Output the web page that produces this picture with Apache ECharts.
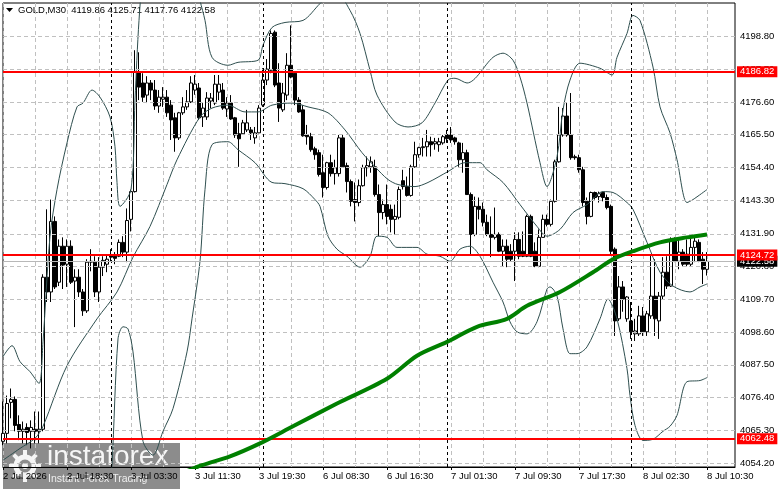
<!DOCTYPE html>
<html>
<head>
<meta charset="utf-8">
<script src="https://cdn.jsdelivr.net/npm/echarts@6/dist/echarts.min.js"></script>
<style>
html,body{margin:0;padding:0;background:#fff}
#chart{width:781px;height:489px}
</style>
</head>
<body>
<div id="chart"></div>
<script>
// GOLD M30 bars: [open, close, low, high]
var ohlc = [
  [4061.6,4064.3,4060.3,4075.1],[4064.3,4074.4,4060.9,4077.1],[4074.8,4075.8,4069.4,4079.5],[4075.8,4067.0,4065.0,4076.8],
  [4067.3,4065.0,4062.0,4070.4],[4065.0,4065.7,4060.9,4068.3],[4066.3,4064.6,4060.3,4067.7],[4065.0,4066.3,4059.2,4068.7],
  [4065.7,4065.0,4060.9,4071.7],[4065.0,4065.7,4060.9,4071.7],[4065.7,4117.2,4065.0,4118.2],[4117.2,4112.2,4108.8,4140.2],
  [4112.2,4136.1,4108.8,4143.5],[4136.1,4113.9,4113.2,4137.8],[4115.5,4127.7,4114.2,4130.0],[4127.7,4121.3,4113.2,4130.7],
  [4121.6,4127.7,4113.9,4130.0],[4127.7,4115.5,4114.9,4129.7],[4115.9,4117.2,4100.3,4119.9],[4117.2,4112.2,4110.5,4119.9],
  [4112.2,4105.8,4104.1,4113.2],[4105.8,4122.3,4105.1,4123.3],[4122.3,4122.6,4119.2,4126.7],[4122.3,4112.2,4110.5,4124.3],
  [4112.2,4120.6,4108.8,4124.0],[4120.6,4122.9,4117.6,4124.3],[4121.6,4123.3,4118.9,4125.0],[4124.6,4124.0,4122.6,4126.7],
  [4124.3,4123.6,4121.6,4125.7],[4124.3,4129.0,4124.0,4130.0],[4129.0,4125.7,4124.0,4131.1],[4125.7,4136.4,4122.3,4140.5],
  [4136.8,4146.2,4132.7,4146.9],[4146.2,4186.7,4145.9,4194.1],[4186.7,4181.6,4177.2,4193.4],[4183.0,4178.2,4176.6,4186.3],
  [4178.9,4183.0,4176.2,4185.3],[4183.0,4180.6,4177.2,4184.0],[4180.6,4175.2,4173.9,4184.0],[4175.2,4178.2,4172.9,4180.6],
  [4177.5,4178.2,4174.9,4181.6],[4178.2,4172.9,4171.5,4180.6],[4175.5,4170.5,4163.7,4177.2],[4171.2,4164.4,4159.7,4172.9],
  [4164.4,4172.9,4163.7,4173.2],[4172.9,4174.9,4172.2,4178.2],[4174.9,4176.6,4173.9,4180.6],[4176.6,4183.0,4176.2,4185.3],
  [4180.6,4182.6,4179.0,4185.7],[4181.3,4171.2,4170.5,4183.0],[4171.5,4174.5,4168.1,4176.2],[4171.5,4177.9,4170.5,4179.9],
  [4176.9,4177.9,4174.5,4179.6],[4176.2,4182.6,4175.5,4185.7],[4179.9,4182.6,4177.2,4185.7],[4180.6,4174.5,4173.9,4183.0],
  [4174.2,4176.2,4171.5,4178.2],[4176.2,4170.8,4170.5,4178.9],[4171.2,4165.4,4164.4,4171.5],[4165.8,4164.1,4154.6,4169.5],
  [4165.8,4169.5,4165.4,4170.5],[4167.1,4169.5,4166.4,4173.9],[4167.1,4166.1,4163.7,4168.1],[4164.4,4166.1,4162.4,4168.1],
  [4166.1,4174.5,4166.0,4175.5],[4175.5,4184.0,4174.9,4188.0],[4184.0,4187.7,4182.3,4191.1],[4187.3,4199.8,4186.3,4200.8],
  [4200.2,4182.3,4181.6,4200.8],[4183.0,4174.5,4169.8,4189.7],[4173.9,4179.6,4173.2,4183.0],[4178.9,4189.0,4177.2,4193.1],
  [4189.0,4185.0,4184.6,4202.5],[4186.3,4177.2,4175.5,4186.7],[4177.2,4173.2,4172.9,4178.2],[4173.9,4165.1,4164.8,4175.5],
  [4165.4,4164.8,4162.1,4168.8],[4164.8,4160.4,4159.7,4166.1],[4160.7,4158.7,4157.0,4161.4],[4159.4,4152.0,4151.3,4160.4],
  [4152.6,4147.6,4144.2,4158.7],[4147.6,4156.0,4146.9,4156.3],[4156.0,4152.3,4151.3,4158.7],[4152.3,4154.3,4148.6,4157.0],
  [4152.3,4164.4,4151.3,4165.4],[4164.4,4154.6,4154.3,4165.4],[4155.0,4149.6,4145.9,4156.0],[4149.6,4142.9,4141.2,4150.3],
  [4143.5,4142.5,4136.1,4149.3],[4142.5,4148.2,4141.2,4150.3],[4148.2,4154.3,4147.9,4155.3],[4154.3,4155.0,4151.3,4158.1],
  [4154.6,4156.3,4152.6,4158.1],[4154.6,4145.2,4144.5,4157.0],[4145.2,4139.1,4131.1,4148.6],[4139.1,4141.8,4136.8,4143.5],
  [4141.8,4137.8,4135.1,4148.6],[4140.2,4136.8,4132.4,4141.8],[4136.8,4137.8,4131.7,4141.8],[4137.5,4146.9,4136.8,4147.9],
  [4149.9,4147.9,4146.9,4153.6],[4147.9,4144.9,4144.5,4151.3],[4144.9,4154.6,4144.5,4155.3],[4154.6,4158.7,4154.3,4163.1],
  [4158.7,4161.1,4157.7,4161.4],[4161.1,4161.4,4158.1,4164.4],[4161.4,4163.1,4158.1,4167.1],[4163.1,4162.1,4158.1,4164.8],
  [4162.4,4163.1,4160.4,4164.4],[4162.1,4163.1,4159.7,4164.4],[4162.7,4164.8,4162.1,4165.4],[4165.4,4164.1,4162.7,4167.1],
  [4165.4,4163.7,4162.7,4168.1],[4164.4,4163.1,4162.1,4164.8],[4162.7,4157.0,4154.6,4163.1],[4157.0,4159.4,4152.6,4162.7],
  [4159.4,4145.2,4145.2,4160.4],[4145.2,4131.7,4125.0,4145.9],[4131.7,4141.2,4131.1,4144.5],[4141.2,4140.2,4136.8,4144.2],
  [4140.2,4135.8,4134.4,4142.5],[4135.8,4131.7,4131.1,4138.4],[4131.7,4130.7,4124.0,4137.8],[4130.7,4131.7,4130.0,4140.8],
  [4131.7,4126.0,4125.7,4132.4],[4126.0,4127.7,4120.9,4130.0],[4127.7,4123.3,4120.6,4130.0],[4126.0,4123.3,4122.6,4128.4],
  [4126.0,4130.0,4115.9,4132.4],[4130.0,4124.3,4123.3,4132.4],[4126.0,4124.3,4124.0,4132.7],[4124.3,4137.8,4124.0,4138.4],
  [4137.8,4124.3,4124.0,4138.4],[4126.0,4120.9,4120.6,4129.0],[4120.9,4130.7,4120.6,4133.4],[4130.7,4136.8,4130.7,4138.4],
  [4136.8,4135.1,4134.4,4138.4],[4135.1,4142.9,4134.4,4143.5],[4142.9,4156.3,4142.5,4157.0],[4156.3,4165.4,4156.0,4174.9],
  [4165.4,4171.8,4164.8,4174.5],[4171.8,4165.4,4164.8,4176.2],[4165.4,4157.7,4157.0,4179.6],[4158.0,4157.7,4157.0,4158.7],
  [4157.7,4153.6,4152.6,4158.7],[4153.6,4142.5,4141.2,4154.6],[4142.9,4137.8,4135.1,4144.2],[4137.8,4145.9,4137.5,4146.2],
  [4145.9,4144.2,4143.5,4146.2],[4144.5,4145.5,4142.5,4146.2],[4145.9,4144.2,4142.9,4146.2],[4144.2,4140.8,4140.2,4145.2],
  [4141.2,4126.0,4125.0,4141.8],[4126.7,4102.4,4097.3,4127.3],[4103.1,4113.9,4102.4,4117.6],[4113.9,4109.8,4105.5,4115.9],
  [4103.1,4110.5,4102.1,4110.8],[4102.4,4098.7,4096.3,4108.8],[4098.0,4099.0,4095.6,4103.1],[4098.0,4104.1,4097.3,4107.5],
  [4104.1,4098.7,4097.3,4107.1],[4098.7,4104.8,4097.3,4105.8],[4104.1,4110.8,4103.1,4125.0],[4110.8,4103.1,4097.3,4123.3],
  [4102.4,4110.8,4096.3,4112.2],[4110.8,4118.9,4109.8,4124.0],[4118.9,4114.2,4113.2,4124.3],[4114.2,4130.0,4113.9,4130.7],
  [4130.0,4122.6,4122.3,4130.7],[4122.6,4125.7,4119.9,4130.7],[4125.7,4121.6,4120.9,4126.7],[4125.0,4121.6,4120.9,4130.0],
  [4121.6,4127.3,4120.9,4130.7],[4127.3,4129.4,4122.3,4131.1],[4129.0,4122.6,4122.3,4130.0],[4123.3,4119.9,4114.9,4125.7],
  [4119.86,4122.58,4117.76,4125.71]
];

// indicator lines: [bar index, price]
var upperBand = [[0,4090.3],[2.25,4094.0],[4.25,4088.6],[6.75,4085.2],[9,4081.2],[10,4095.3],[11.75,4131.0],[13.5,4146.9],[16,4162.7],[18.5,4174.9],[20,4176.2],[22.25,4180.6],[24.25,4178.2],[26.75,4171.5],[28,4161.4],[28.5,4149.3],[29.25,4141.2],[32,4146.9],[33,4177.2],[34,4204.2],[35,4217.7],[38,4231],[43,4238],[46.75,4224.4],[49.25,4210.9],[50.5,4204.2],[52.25,4191.7],[56.25,4189.0],[58.75,4190.0],[63.75,4190.7],[65,4195.8],[67.25,4201.8],[70.5,4203.5],[75,4204.2],[79.25,4209.9],[83,4214.3],[86.75,4207.6],[89.25,4199.8],[91.75,4187.3],[93.5,4178.9],[98,4169.8],[101.25,4168.1],[104.75,4169.5],[108,4176.2],[111.25,4184.0],[113,4184.6],[116,4183.0],[122.5,4191.7],[125,4193.1],[127.5,4190.7],[129.25,4185.0],[131,4176.2],[134.25,4156.0],[136,4147.9],[138.5,4158.0],[140,4173.9],[141.75,4184.0],[144.25,4189.7],[149.25,4188.0],[152.25,4185.7],[153.5,4191.7],[156,4199.8],[157.5,4205.9],[159.25,4204.2],[162.5,4188.4],[164.25,4174.9],[166.75,4166.1],[168.5,4157.0],[171,4142.5],[172.5,4143.5],[176,4146.9]];
var middleBand = [[0,4055.2],[4.25,4059.2],[8,4062.6],[10,4066.7],[16,4087.2],[23.5,4103.1],[28.5,4112.2],[32.5,4124.0],[36.75,4134.4],[41,4148.6],[43.5,4157.0],[49.25,4171.5],[52.25,4174.5],[56.25,4175.5],[60.5,4173.2],[63.75,4173.2],[67.25,4175.5],[72.25,4176.2],[76.25,4174.9],[81.25,4172.9],[85.5,4167.1],[89.75,4159.4],[93,4154.6],[96.25,4150.3],[98.75,4148.6],[103,4147.9],[106.25,4149.3],[111.25,4153.0],[115.5,4156.0],[119.25,4156.0],[121,4153.6],[125,4149.3],[129.25,4141.8],[133.5,4134.4],[136,4131.1],[139.25,4133.4],[142.5,4139.1],[146,4141.8],[150,4146.2],[152.5,4145.9],[156,4142.5],[157.5,4140.2],[161,4129.0],[164.25,4118.9],[167.5,4114.2],[171.75,4112.2],[174.25,4113.9],[176,4114.9]];
var lowerBand = [[0,4035.6],[14.25,4022.2],[24.25,4035.6],[26.75,4049.1],[27.25,4053.5],[28.75,4096.3],[30,4100.4],[31.25,4099.7],[32.5,4091.9],[35,4061.6],[37.5,4056.9],[40,4065.0],[42.5,4072.7],[46,4091.9],[47.25,4103.1],[49.25,4122.6],[50.5,4146.9],[52.25,4162.1],[56.25,4163.1],[58.75,4160.4],[63,4156.0],[67.25,4149.3],[70.5,4148.9],[75,4147.2],[78,4143.5],[79.25,4141.2],[81.25,4131.1],[83.5,4126.7],[86,4124.3],[89.25,4120.6],[91.75,4124.3],[93.5,4131.1],[96,4130.7],[98.5,4127.3],[103.5,4127.3],[106,4125.0],[109.25,4124.3],[111.75,4122.6],[114.25,4126.7],[116.75,4127.7],[119.25,4124.3],[122.5,4115.5],[125,4108.8],[126.75,4102.1],[128.5,4098.7],[131,4098.0],[133.5,4102.1],[136,4113.2],[136.75,4113.9],[138.5,4110.8],[140,4099.7],[141.75,4091.3],[143.5,4091.3],[146,4093.6],[149.25,4103.1],[151.25,4109.8],[153.5,4103.1],[156,4086.2],[156.75,4077.1],[158,4067.0],[160,4061.9],[162.5,4062.3],[165,4065.0],[166.75,4066.7],[168.5,4070.4],[171,4081.8],[174.25,4082.2],[176,4083.2]];
var maLine = [[43,4049.8],[49.75,4053.5],[56.75,4056.5],[64.25,4060.9],[72.5,4066.7],[83.5,4074.4],[96,4082.8],[103.5,4090.6],[111,4095.3],[118.5,4100.4],[126,4103.1],[131,4107.5],[139.25,4112.2],[147.5,4118.9],[152.5,4123.3],[157.5,4126.0],[164.25,4129.0],[171,4130.7],[176,4131.7]];

var levels = [4186.82, 4124.72, 4062.48];
var lastPrice = 4122.58;
var yTicks = [4054.20, 4065.30, 4076.40, 4087.50, 4098.60, 4109.70, 4120.80, 4131.90, 4143.30, 4154.40, 4165.50, 4176.60, 4187.70, 4198.80];
var tickLabels = {0:'2 Jul 2026', 16:'2 Jul 18:30', 32:'3 Jul 03:30', 48:'3 Jul 11:30', 64:'3 Jul 19:30', 80:'6 Jul 08:30',
  96:'6 Jul 16:30', 112:'7 Jul 01:30', 128:'7 Jul 09:30', 144:'7 Jul 17:30', 160:'8 Jul 02:30', 176:'8 Jul 10:30'};
var daySeparators = [27, 65, 111, 157];
var headerText = 'GOLD,M30  4119.86 4125.71 4117.76 4122.58';

var FONT = '"Liberation Sans", Arial, sans-serif';
var barCount = 184;
var bars = [];
for (var i = 0; i < barCount; i++) bars.push(i);

// gear of the watermark
var gear = [{type:'circle', shape:{cx:25, cy:466, r:9}, style:{fill:'none', stroke:'rgba(255,255,255,0.9)', lineWidth:5}}];
for (var k = 0; k < 8; k++) {
  var a = k * Math.PI / 4;
  gear.push({type:'line', shape:{x1:25 + 11 * Math.cos(a), y1:466 + 11 * Math.sin(a), x2:25 + 16 * Math.cos(a), y2:466 + 16 * Math.sin(a)},
    style:{stroke:'rgba(255,255,255,0.9)', lineWidth:4}});
}
gear.push({type:'circle', shape:{cx:25, cy:466, r:3}, style:{fill:'rgba(255,255,255,0.9)'}});

var myChart = echarts.init(document.getElementById('chart'));
var option = {
  animation: false,
  backgroundColor: '#fff',
  grid: {left: 3, right: 46, top: 3, bottom: 22, show: true, borderColor: '#000', borderWidth: 1},
  xAxis: [{
    type: 'category',
    data: bars,
    boundaryGap: false,
    axisLine: {lineStyle: {color: '#000'}},
    axisTick: {show: true, length: 3, interval: function (idx) { return idx % 16 === 0; }, lineStyle: {color: '#000'}},
    axisLabel: {
      interval: function (idx) { return idx % 16 === 0; },
      formatter: function (v, idx) { return tickLabels[idx] || ''; },
      align: 'left', margin: 4, color: '#000', fontSize: 9.5, fontFamily: FONT
    },
    splitLine: {show: true, interval: function (idx) { return idx % 8 === 0; }, lineStyle: {color: '#c0c0c0', type: [4, 3], width: 1}}
  }, {
    type: 'value', min: 0, max: barCount - 1, show: false
  }],
  yAxis: {
    type: 'value', position: 'right', min: 4052.9, max: 4210.1,
    axisLine: {show: false}, axisTick: {show: false}, axisLabel: {show: false}, splitLine: {show: false}
  },
  graphic: [
    {type: 'polygon', shape: {points: [[6, 8], [13, 8], [9.5, 12]]}, style: {fill: '#000'}},
    {type: 'text', x: 18, y: 5, style: {text: headerText, fill: '#000', font: '9.5px ' + FONT}},
    {type: 'group', z: 100, children: [
      {type: 'rect', shape: {x: 3, y: 443, width: 177, height: 46}, style: {fill: 'rgba(120,120,120,0.85)'}},
      {type: 'group', children: gear},
      {type: 'text', x: 47, y: 443, style: {text: 'instaforex', fill: 'rgba(255,255,255,0.92)', font: '28px ' + FONT}},
      {type: 'text', x: 48, y: 474, style: {text: 'Instant Forex Trading', fill: 'rgba(255,255,255,0.85)', font: '10.5px ' + FONT}}
    ]}
  ],
  series: [
    {
      name: 'grid', type: 'line', xAxisIndex: 1, data: [], z: 1, silent: true,
      markLine: {
        silent: true, symbol: ['none', 'none'], animation: false,
        lineStyle: {color: '#c0c0c0', type: [4, 3], width: 1},
        label: {show: true, position: 'end', distance: 5, color: '#000', fontSize: 9.5, fontFamily: FONT},
        data: yTicks.map(function (v) { return {yAxis: v, label: {formatter: v.toFixed(2)}}; })
      }
    },
    {
      name: 'days', type: 'line', xAxisIndex: 1, data: [], z: 2, silent: true,
      markLine: {
        silent: true, symbol: ['none', 'none'], animation: false,
        lineStyle: {color: '#000', type: [3, 3], width: 1},
        label: {show: false},
        data: daySeparators.map(function (d) { return {xAxis: d}; })
      }
    },
    {
      name: 'price', type: 'line', xAxisIndex: 1, data: [], z: 2, silent: true,
      markLine: {
        silent: true, symbol: ['none', 'none'], animation: false,
        lineStyle: {color: '#b8b8b8', type: 'solid', width: 1},
        label: {show: true, position: 'end', distance: 2, color: '#fff', backgroundColor: '#000',
          padding: [1, 3, 0, 3], lineHeight: 10, fontSize: 9.5, fontFamily: FONT, formatter: lastPrice.toFixed(2)},
        data: [{yAxis: lastPrice}]
      }
    },
    {
      name: 'GOLD', type: 'candlestick', xAxisIndex: 0, data: ohlc, z: 3, barWidth: 3,
      itemStyle: {color: '#fff', color0: '#000', borderColor: '#000', borderColor0: '#000', borderWidth: 1}
    },
    {name: 'BB upper', type: 'line', xAxisIndex: 1, data: upperBand, symbol: 'none', smooth: 0.3, z: 4,
      lineStyle: {color: '#2f4f4f', width: 1}},
    {name: 'BB middle', type: 'line', xAxisIndex: 1, data: middleBand, symbol: 'none', smooth: 0.3, z: 4,
      lineStyle: {color: '#2f4f4f', width: 1}},
    {name: 'BB lower', type: 'line', xAxisIndex: 1, data: lowerBand, symbol: 'none', smooth: 0.3, z: 4,
      lineStyle: {color: '#2f4f4f', width: 1}},
    {
      name: 'levels', type: 'line', xAxisIndex: 1, data: [], z: 5, silent: true,
      markLine: {
        silent: true, symbol: ['none', 'none'], animation: false,
        lineStyle: {color: '#ff0000', type: 'solid', width: 2},
        label: {show: true, position: 'end', distance: 2, color: '#fff', backgroundColor: '#ff0000',
          padding: [1, 3, 0, 3], lineHeight: 10, fontSize: 9.5, fontFamily: FONT},
        data: levels.map(function (v) { return {yAxis: v, label: {formatter: v.toFixed(2)}}; })
      }
    },
    {name: 'MA', type: 'line', xAxisIndex: 1, data: maLine, symbol: 'none', smooth: 0.3, z: 6,
      lineStyle: {color: '#008000', width: 4}}
  ]
};
myChart.setOption(option);
</script>
</body>
</html>
